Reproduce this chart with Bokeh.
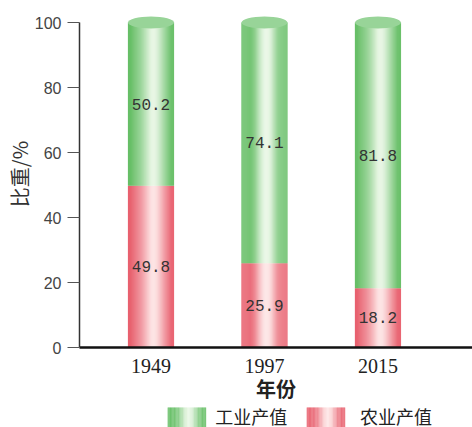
import numpy as np
from bokeh.plotting import figure
from bokeh.models import Range1d, FixedTicker, ColumnDataSource
from bokeh.layouts import column
from bokeh.embed import file_html
from bokeh.resources import INLINE
from bokeh.core.properties import value

# ---- data ----
years = ["1949", "1997", "2015"]
industry = [50.2, 74.1, 81.8]      # 工业产值 (top, green)
agriculture = [49.8, 25.9, 18.2]   # 农业产值 (bottom, red)
series_names = ["工业产值", "农业产值"]
y_ticks = [0, 20, 40, 60, 80, 100]

# ---- styles ----
GREEN_EDGE = np.array([102, 190, 102])
GREEN_MID = np.array([232, 246, 228])
RED_EDGE = np.array([232, 96, 110])
RED_MID = np.array([253, 228, 228])
CAP_COLOR = "#98d498"
BAR_W = 0.405
N = 48
CJK_TIGHT = "'Liberation Sans', 'Noto Sans CJK SC'"


def profile(t):
    return np.exp(-((t - 0.55) / 0.24) ** 2)


def blend(edge, mid, f):
    c = edge + (mid - edge) * f
    return "#%02x%02x%02x" % tuple(int(round(x)) for x in c)


ts = (np.arange(N) + 0.5) / N
green_cols = [blend(GREEN_EDGE, GREEN_MID, profile(t)) for t in ts]
red_cols = [blend(RED_EDGE, RED_MID, profile(t)) for t in ts]

xs, bots, tops, cols = [], [], [], []
for i in range(len(years)):
    a = agriculture[i]
    ind = industry[i]
    for k, t in enumerate(ts):
        off = (t - 0.5) * BAR_W
        xs += [i + off, i + off]
        bots += [0, a]
        tops += [a, a + ind]
        cols += [red_cols[k], green_cols[k]]
strips = ColumnDataSource(dict(x=xs, bottom=bots, top=tops, color=cols))

W = 472
H1 = 403
H2 = 24
FRAME_L = 79
FRAME_B = 347

p = figure(width=W, height=H1, output_backend="svg", toolbar_location=None,
           x_range=Range1d(-0.630, 2.833), y_range=Range1d(0, 106.77),
           min_border_left=FRAME_L, min_border_right=0, min_border_top=0,
           min_border_bottom=H1 - FRAME_B)
p.outline_line_color = None
p.grid.visible = False
p.background_fill_color = "white"

p.vbar(x="x", bottom="bottom", top="top", width=BAR_W / N * 1.25,
       fill_color="color", line_color=None, source=strips)

totals = [a + b for a, b in zip(agriculture, industry)]
p.ellipse(x=list(range(len(years))), y=totals, width=BAR_W, height=12,
          height_units="screen", fill_color=CAP_COLOR, line_color=None)

# value labels
lab_x = list(range(len(years))) * 2
lab_y = [a / 2 for a in agriculture] + [a + b / 2 for a, b in zip(agriculture, industry)]
lab_t = ["%.1f" % v for v in agriculture] + ["%.1f" % v for v in industry]
p.text(x=lab_x, y=lab_y, text=lab_t, text_align="center", text_baseline="middle",
       text_font=value("Liberation Mono"), text_font_size="16px", text_color="#333333")

# y axis
ya = p.yaxis[0]
ya.ticker = FixedTicker(ticks=y_ticks)
ya.bounds = (0, 100)
ya.axis_line_width = 1.5
ya.axis_line_color = "#333333"
ya.major_tick_out = 12
ya.major_tick_in = 0
ya.minor_tick_out = 0
ya.minor_tick_in = 0
ya.major_tick_line_color = "#555555"
ya.major_label_text_font = "Liberation Sans"
ya.major_label_text_font_size = "16px"
ya.major_label_text_color = "#444444"
ya.major_label_standoff = 6
ya.axis_label = "比重/%"
ya.axis_label_text_font = "Noto Sans CJK SC"
ya.axis_label_text_font_style = "normal"
ya.axis_label_text_font_size = "20px"
ya.axis_label_text_color = "#333333"
ya.axis_label_standoff = -2

# x axis
xa = p.xaxis[0]
xa.ticker = FixedTicker(ticks=list(range(len(years))))
xa.major_label_overrides = {i: y for i, y in enumerate(years)}
xa.axis_line_width = 2.5
xa.axis_line_color = "#111111"
xa.major_tick_out = 0
xa.major_tick_in = 0
xa.minor_tick_out = 0
xa.minor_tick_in = 0
xa.major_label_text_font = "Liberation Serif"
xa.major_label_text_font_size = "20px"
xa.major_label_text_color = "#222222"
xa.major_label_standoff = 11
xa.axis_label = "年份"
xa.axis_label_text_font = CJK_TIGHT
xa.axis_label_text_font_style = "bold"
xa.axis_label_text_font_size = "20px"
xa.axis_label_text_color = "#222222"
xa.axis_label_standoff = 3

# ---- legend (gradient swatches) ----
leg = figure(width=W, height=H2, output_backend="svg", toolbar_location=None,
             x_range=Range1d(0, W), y_range=Range1d(H2, 0),
             x_axis_type=None, y_axis_type=None,
             min_border_left=0, min_border_right=0, min_border_top=0, min_border_bottom=0)
leg.outline_line_color = None
leg.grid.visible = False

sw_x0 = [106, 273]
sw_w = 46
sw_cols = [green_cols, red_cols]
lx, lc = [], []
for j in range(2):
    for k, t in enumerate(ts):
        lx.append(sw_x0[j] + t * sw_w)
        lc.append(sw_cols[j][k])
leg.vbar(x=lx, bottom=H2, top=4, width=sw_w / N * 1.25, fill_color=lc, line_color=None)
leg.text(x=[163, 337], y=[14, 14], text=series_names, text_align="left",
         text_baseline="middle", text_font=value(CJK_TIGHT),
         text_font_size="18px", text_color="#222222")

layout = column(p, leg, spacing=0)
open("out.html", "w").write(file_html(layout, INLINE))
